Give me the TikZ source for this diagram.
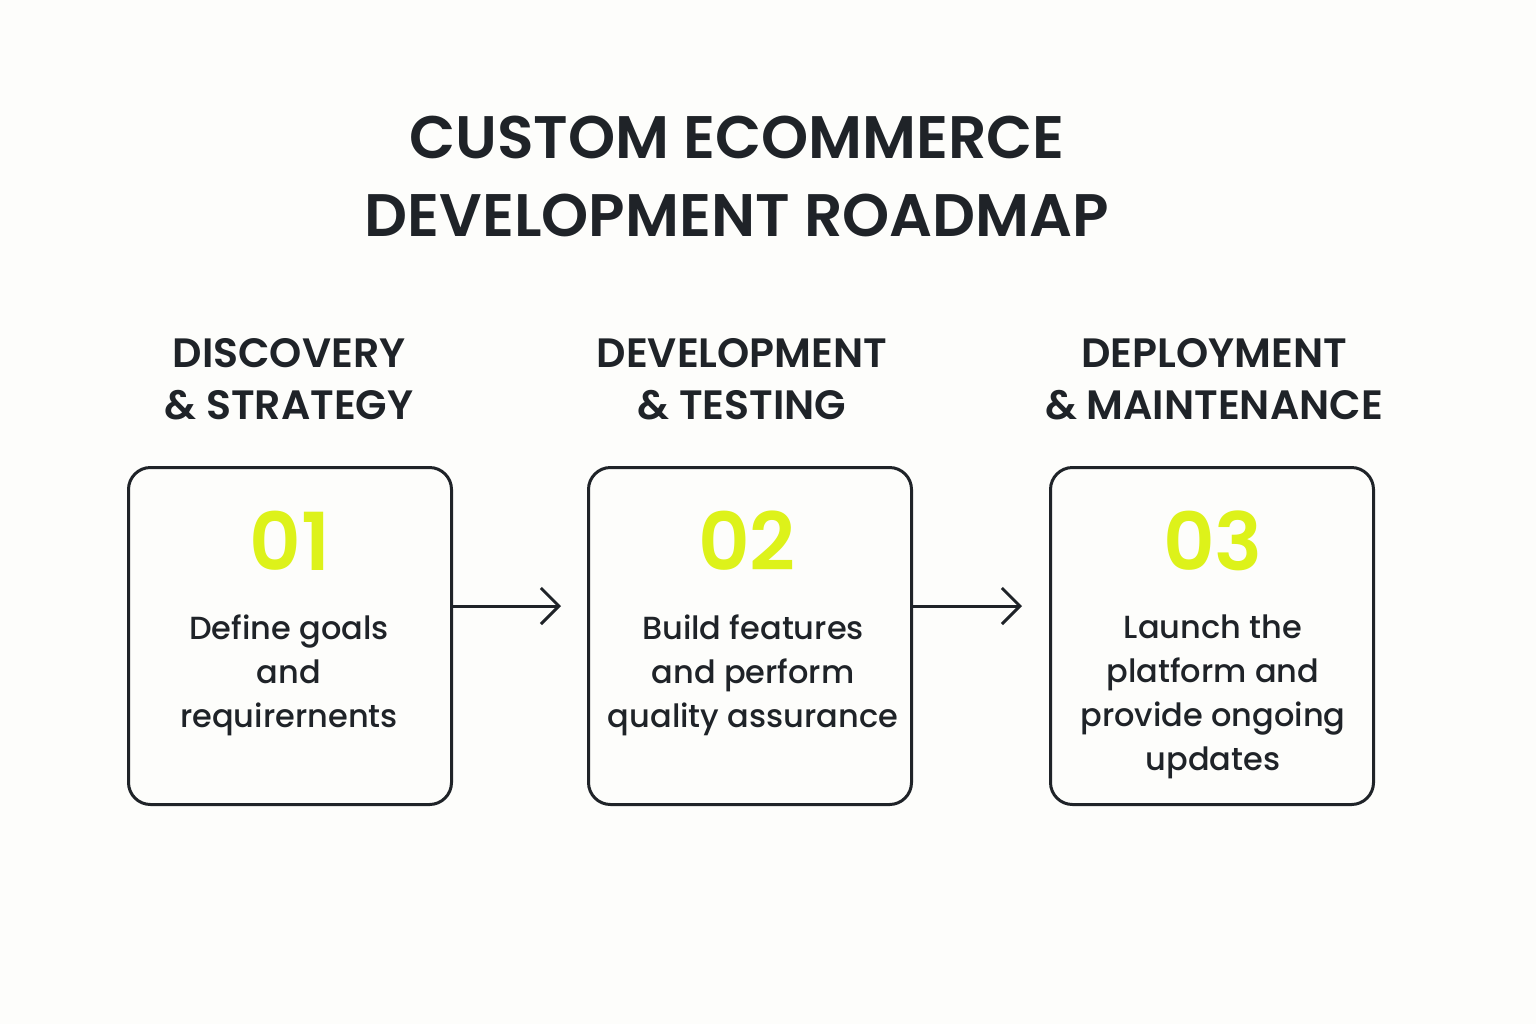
\documentclass[tikz,border=0pt]{standalone}
\usepackage{fontspec}
\setmainfont{Poppins}
\newfontfamily\medfont{Poppins Medium}
\newfontfamily\semifont{Poppins SemiBold}
\usetikzlibrary{arrows.meta}
\definecolor{ink}{HTML}{1F2328}
\definecolor{lime}{HTML}{DDF21A}
\definecolor{bg}{HTML}{FDFDFB}
\begin{document}
\begin{tikzpicture}[x=0.5pt,y=-0.5pt,
  stagebox/.style={draw=ink,line width=1.5pt,rounded corners=11pt,minimum width=161.5pt,minimum height=168.5pt,anchor=north west},
  head/.style={font=\fontsize{20.5}{26}\semifont,text=ink,align=center},
  num/.style={font=\fontsize{40}{40}\semifont,text=lime},
  body/.style={font=\fontsize{16}{22}\medfont,text=ink,align=center},
  conn/.style={draw=ink,line width=1.5pt,-{Straight Barb[length=9pt,width=18pt,line width=1.5pt]}}]
\fill[bg] (0,0) rectangle (1536,1024);
\useasboundingbox (0,0) rectangle (1536,1024);
\node[font=\fontsize{30}{39}\semifont,text=ink,align=center] (title) at (737,176) {CUSTOM ECOMMERCE\\DEVELOPMENT ROADMAP};
\node[head] (h1) at (289,379) {DISCOVERY\\\& STRATEGY};
\node[head] (h2) at (742,379) {DEVELOPMENT\\\& TESTING};
\node[head] (h3) at (1214,379) {DEPLOYMENT\\\& MAINTENANCE};
\node[stagebox] (b1) at (127,466) {};
\node[stagebox] (b2) at (587,466) {};
\node[stagebox] (b3) at (1049,466) {};
\node[num] (n1) at (290,541) {01};
\node[num] (n2) at (747,541) {02};
\node[num] (n3) at (1213,541) {03};
\node[body,anchor=north] (t1) at (289,608) {Define goals\\and\\requirernents};
\node[body,anchor=north] (t2) at (753,608) {Build features\\and perform\\quality assurance};
\node[body,anchor=north] (t3) at (1213,608) {Launch the\\platform and\\provide ongoing\\updates};
\coordinate (a1) at (561,606);
\coordinate (a2) at (1022,606);
\draw[conn] (b1.east |- a1) -- (a1);
\draw[conn] (b2.east |- a2) -- (a2);
\end{tikzpicture}
\end{document}
